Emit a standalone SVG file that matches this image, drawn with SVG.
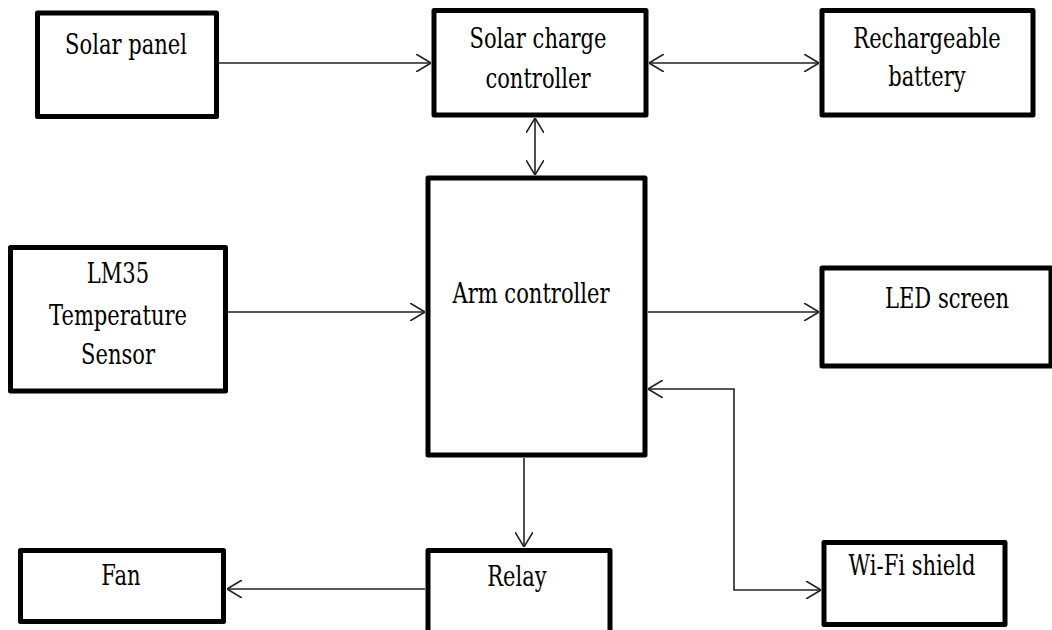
<svg xmlns="http://www.w3.org/2000/svg" width="1052" height="630" viewBox="0 0 1052 630">
<defs>
<style>
.box{fill:#fff;stroke:#000;stroke-width:5;stroke-linejoin:round}
.t{font-family:'DejaVu Serif','Liberation Serif',serif;font-size:27px;text-anchor:middle;fill:#000}
.c{fill:none;stroke:#222;stroke-width:1.6}
</style>
<marker id="ah" viewBox="0 0 15 18" refX="15" refY="9" markerWidth="15" markerHeight="18" markerUnits="userSpaceOnUse" orient="auto-start-reverse">
<path d="M0,0 L15,9 L0,18" fill="none" stroke="#222" stroke-width="1.6"/>
</marker>
</defs>
<rect width="1052" height="630" fill="#fff"/>

<g id="connectors">
<line class="c" x1="219" y1="63" x2="431" y2="63" marker-end="url(#ah)"/>
<line class="c" x1="649" y1="63" x2="819" y2="63" marker-start="url(#ah)" marker-end="url(#ah)"/>
<line class="c" x1="535" y1="118" x2="535" y2="175" marker-start="url(#ah)" marker-end="url(#ah)"/>
<line class="c" x1="228" y1="312" x2="425" y2="312" marker-end="url(#ah)"/>
<line class="c" x1="648" y1="312" x2="819" y2="312" marker-end="url(#ah)"/>
<polyline class="c" points="648,389 734,389 734,590 821,590" marker-start="url(#ah)" marker-end="url(#ah)"/>
<line class="c" x1="524" y1="458" x2="524" y2="547" marker-end="url(#ah)"/>
<line class="c" x1="425" y1="589" x2="227" y2="589" marker-end="url(#ah)"/>
</g>

<g id="solar-panel">
<rect class="box" x="37.5" y="13" width="179" height="103.5"/>
<text class="t" transform="translate(126,54) scale(0.78,1)">Solar panel</text>
</g>

<g id="solar-charge-controller">
<rect class="box" x="434" y="10.5" width="212" height="104.5"/>
<text class="t" transform="translate(538,48) scale(0.78,1)">Solar charge</text>
<text class="t" transform="translate(538,88) scale(0.78,1)">controller</text>
</g>

<g id="rechargeable-battery">
<rect class="box" x="822" y="10.5" width="211" height="104.5"/>
<text class="t" transform="translate(927,48) scale(0.78,1)">Rechargeable</text>
<text class="t" transform="translate(927,86) scale(0.78,1)">battery</text>
</g>

<g id="lm35-sensor">
<rect class="box" x="10.5" y="247.5" width="215" height="143.5"/>
<text class="t" transform="translate(118,283) scale(0.78,1)">LM35</text>
<text class="t" transform="translate(118,325) scale(0.78,1)">Temperature</text>
<text class="t" transform="translate(118,364) scale(0.78,1)">Sensor</text>
</g>

<g id="arm-controller">
<rect class="box" x="428" y="178" width="217" height="277"/>
<text class="t" transform="translate(531,303) scale(0.78,1)">Arm controller</text>
</g>

<g id="led-screen">
<rect class="box" x="822" y="268" width="229" height="98"/>
<text class="t" transform="translate(947,308) scale(0.78,1)">LED screen</text>
</g>

<g id="fan">
<rect class="box" x="20.5" y="550.5" width="203" height="71"/>
<text class="t" transform="translate(121,585) scale(0.78,1)">Fan</text>
</g>

<g id="relay">
<rect class="box" x="428" y="550.5" width="182" height="90"/>
<text class="t" transform="translate(517,586) scale(0.78,1)">Relay</text>
</g>

<g id="wifi-shield">
<rect class="box" x="824" y="542.5" width="181" height="82"/>
<text class="t" transform="translate(912,575) scale(0.78,1)">Wi-Fi shield</text>
</g>
</svg>
